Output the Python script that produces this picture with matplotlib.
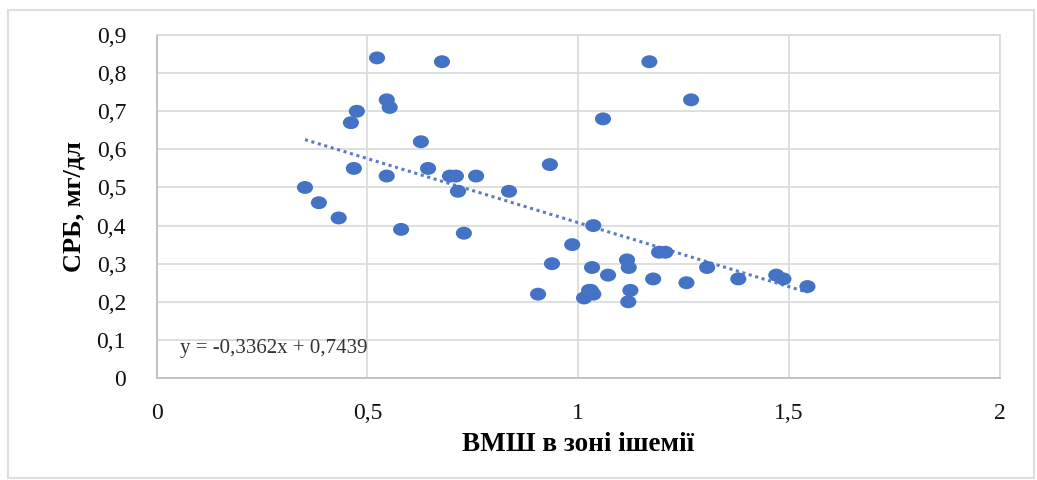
import matplotlib
matplotlib.use("Agg")
import numpy as np
from matplotlib import pyplot as plt
from matplotlib.patches import Rectangle
from matplotlib.path import Path
from matplotlib.transforms import Affine2D

# ВМШ у зоні ішемії та рівень СРБ
vmsh = [0.523, 0.677, 1.169, 1.268, 0.546, 0.553, 0.475, 0.461, 1.059, 0.627,
        0.352, 0.468, 0.644, 0.546, 0.696, 0.710, 0.758, 0.933, 0.715, 0.836,
        0.385, 0.432, 0.580, 0.729, 1.036, 0.986, 0.938, 0.905, 1.033, 1.071,
        1.116, 1.120, 1.192, 1.207, 1.178, 1.257, 1.306, 1.380, 1.470, 1.487,
        1.544, 1.014, 1.026, 1.036, 1.124, 1.119, 1.030]
crp = [0.84, 0.83, 0.83, 0.73, 0.73, 0.71, 0.70, 0.67, 0.68, 0.62,
       0.50, 0.55, 0.55, 0.53, 0.53, 0.53, 0.53, 0.56, 0.49, 0.49,
       0.46, 0.42, 0.39, 0.38, 0.40, 0.35, 0.30, 0.22, 0.29, 0.27,
       0.31, 0.29, 0.33, 0.33, 0.26, 0.25, 0.29, 0.26, 0.27, 0.26,
       0.24, 0.21, 0.23, 0.22, 0.23, 0.20, 0.23]

slope = -0.3362
intercept = 0.7439

x_ticks = [0, 0.5, 1, 1.5, 2]
y_ticks = [0, 0.1, 0.2, 0.3, 0.4, 0.5, 0.6, 0.7, 0.8, 0.9]

plt.rcParams["font.family"] = ["Liberation Serif", "DejaVu Serif"]

fig = plt.figure(figsize=(10.37, 4.8), dpi=100)
ax = fig.add_axes([0.151, 0.2125, 0.813, 0.7145])

# рамка навколо всієї діаграми
fig.patches.append(Rectangle((0.008, 0.004), 0.989, 0.975, transform=fig.transFigure,
                             fill=False, edgecolor="#dedede", linewidth=1.5))

# трохи сплюснутий маркер-еліпс
ellipse = Path.unit_circle().transformed(Affine2D().scale(1.25, 1.0))
ax.scatter(vmsh, crp, s=135, marker=ellipse, color="#4472C4", edgecolors="none", zorder=3)

# лінійний тренд у межах даних
xt = np.array([min(vmsh), max(vmsh)])
ax.plot(xt, slope * xt + intercept, linestyle=(0, (1, 1.2)), color="#5b7bc4",
        linewidth=2.2, zorder=2)

ax.text(0.055, 0.077, "y = -0,3362x + 0,7439", fontsize=15, color="#333333",
        transform=ax.transData, va="center", ha="left")

ax.set_xlim(0, 2)
ax.set_ylim(0, 0.9)
ax.set_xticks(x_ticks)
ax.set_yticks(y_ticks)
ax.set_xticklabels([f"{v:g}".replace(".", ",") for v in x_ticks])
ax.set_yticklabels([f"{v:g}".replace(".", ",") for v in y_ticks])
ax.tick_params(length=0, labelsize=17, colors="#111111")
ax.tick_params(axis="y", pad=22)
ax.tick_params(axis="x", pad=18)

ax.grid(True, color="#d9d9d9", linewidth=1.2)
ax.set_axisbelow(True)
for side in ["top", "right"]:
    ax.spines[side].set_color("#d9d9d9")
    ax.spines[side].set_linewidth(1.2)
for side in ["left", "bottom"]:
    ax.spines[side].set_color("#bfbfbf")
    ax.spines[side].set_linewidth(1.3)

ax.set_xlabel("ВМШ в зоні ішемії", fontsize=19.5, fontweight="bold", labelpad=6)
ax.set_ylabel("СРБ, мг/дл", fontsize=19, fontweight="bold", labelpad=8)

fig.savefig("out.png", dpi=100)
